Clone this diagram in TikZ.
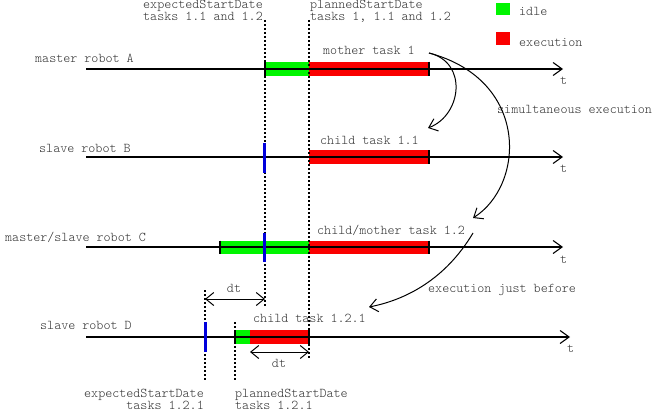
\documentclass[tikz,border=0pt]{standalone}
\usepackage{fontspec}
\setmonofont{Latin Modern Mono Light}
\usetikzlibrary{arrows.meta}
\definecolor{idlegreen}{RGB}{0,245,0}
\definecolor{execred}{RGB}{250,0,0}
\definecolor{markblue}{RGB}{0,0,220}
\definecolor{txt}{RGB}{50,50,50}
\tikzset{
  lbl/.style={font=\ttfamily\fontsize{13.4}{12}\selectfont, text=txt, inner sep=0pt},
  tl/.style={line width=1.1pt, -{Straight Barb[length=9pt,width=13pt,line width=1.1pt]}},
  arc/.style={line width=1pt, -{Straight Barb[length=8pt,width=13pt,line width=1pt]}},
  dimarr/.style={line width=1pt, {Straight Barb[length=8pt,width=13pt,line width=1pt]}-{Straight Barb[length=8pt,width=13pt,line width=1pt]}},
  guide/.style={line width=1.1pt, dash pattern=on 2pt off 2pt},
  idlebar/.style={fill=idlegreen},
  execbar/.style={fill=execred},
  endtick/.style={line width=1.2pt},
  bluetick/.style={line width=3pt, draw=markblue},
}
\begin{document}
\begin{tikzpicture}[x=1pt,y=-1pt]
\useasboundingbox (0,0) rectangle (652,412);
% bars
\fill[idlebar] (265,61.5) rectangle (309,76);
\fill[execbar] (309,61.5) rectangle (429,76);
\fill[execbar] (309,150) rectangle (429,164);
\fill[idlebar] (220,240.5) rectangle (309,254);
\fill[execbar] (309,240.5) rectangle (429,254);
\fill[idlebar] (235,330) rectangle (250,344);
\fill[execbar] (250,330) rectangle (309,344);
% guides
\draw[guide] (265,20) -- (265,306);
\draw[guide] (309,20) -- (309,358);
\draw[guide] (205,290) -- (205,380);
\draw[guide] (235,322) -- (235,380);
% timelines
\coordinate (A0) at (86,69); \coordinate (A1) at (563,69);
\coordinate (B0) at (86,157); \coordinate (B1) at (563,157);
\coordinate (C0) at (86,247); \coordinate (C1) at (563,247);
\coordinate (D0) at (86,337); \coordinate (D1) at (570,337);
\draw[tl] (A0) -- (A1);
\draw[tl] (B0) -- (B1);
\draw[tl] (C0) -- (C1);
\draw[tl] (D0) -- (D1);
% end ticks
\draw[endtick] (265,61.5) -- (265,76);
\draw[endtick] (429,61.5) -- (429,76);
\draw[endtick] (429,150) -- (429,164);
\draw[endtick] (220,240.5) -- (220,254);
\draw[endtick] (429,240.5) -- (429,254);
\draw[endtick] (235,330) -- (235,344);
\draw[endtick] (309,330) -- (309,344);
% blue marks
\draw[bluetick] (264,143) -- (264,173);
\draw[bluetick] (264,233) -- (264,262);
\draw[bluetick] (205,322) -- (205,352);
% labels
\node[lbl, anchor=base west] (la) at (35,62) {master robot A};
\node[lbl, anchor=base west] (lb) at (39,152) {slave robot B};
\node[lbl, anchor=base west] (lc) at (5,241) {master/slave robot C};
\node[lbl, anchor=base west] (ld) at (40,329) {slave robot D};
\node[lbl, anchor=base west] (ta) at (560,84) {t};
\node[lbl, anchor=base west] (tb) at (560,172) {t};
\node[lbl, anchor=base west] (tc) at (560,263) {t};
\node[lbl, anchor=base west] (td) at (567,352) {t};
\node[lbl, anchor=base west] (m1) at (323,55) {mother task 1};
\node[lbl, anchor=base west] (c11) at (320,144) {child task 1.1};
\node[lbl, anchor=base west] (c12) at (317,234) {child/mother task 1.2};
\node[lbl, anchor=base west] (c121) at (253,322) {child task 1.2.1};
\node[lbl, anchor=base east, align=right] (exp1) at (263,21) {expectedStartDate\\tasks 1.1 and 1.2};
\node[lbl, anchor=base west, align=left] (pl1) at (310,21) {plannedStartDate\\tasks 1, 1.1 and 1.2};
\node[lbl, anchor=base east, align=right] (exp2) at (204,409) {expectedStartDate\\tasks 1.2.1};
\node[lbl, anchor=base west, align=left] (pl2) at (235,409) {plannedStartDate\\tasks 1.2.1};
\node[lbl, anchor=base west] (sim) at (497,113) {simultaneous execution};
\node[lbl, anchor=base west] (jb) at (428,292) {execution just before};
\node[lbl, anchor=base] (dt1) at (234,292) {dt};
\node[lbl, anchor=base] (dt2) at (279,367) {dt};
% legend
\fill[idlegreen] (496,3) rectangle (510,15);
\node[lbl, anchor=base west] (lid) at (519,16) {idle};
\fill[execred] (496,32) rectangle (510,45);
\node[lbl, anchor=base west] (lex) at (519,46) {execution};
% dt arrows
\coordinate (d1a) at (205,299); \coordinate (d1b) at (265,299);
\draw[dimarr] (d1a) -- (d1b);
\coordinate (d2a) at (250,352); \coordinate (d2b) at (309,352);
\draw[dimarr] (d2a) -- (d2b);
% curved arrows
\coordinate (s1) at (429,53);
\coordinate (e1) at (428,128);
\coordinate (e2) at (473,218);
\coordinate (s3) at (473,233);
\coordinate (e3) at (369,307);
\draw[arc] (s1) .. controls (468,62) and (462,115) .. (e1);
\draw[arc] (s1) .. controls (530,80) and (525,185) .. (e2);
\draw[arc] (s3) .. controls (445,280) and (405,300) .. (e3);
\end{tikzpicture}
\end{document}
